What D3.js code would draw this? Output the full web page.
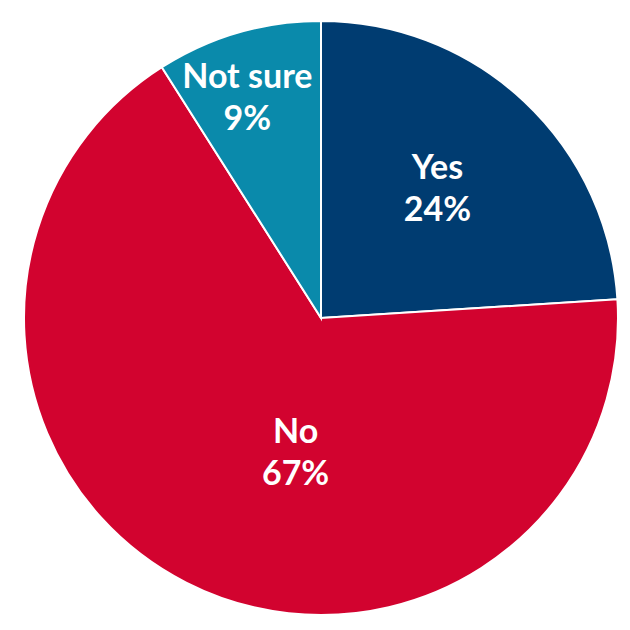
<!DOCTYPE html>
<html><head><meta charset="utf-8">
<script src="https://cdn.jsdelivr.net/npm/d3@7"></script>
<style>html,body{margin:0;padding:0;background:#fff;}</style>
</head><body>
<svg id="chart" width="630" height="630"></svg>
<script>
const categories = ["Yes", "No", "Not sure"];
const values = [24, 67, 9];
const valueLabels = ["24%", "67%", "9%"];
const colors = ["#003c71", "#d2032f", "#0a8aab"];
// label placement: angle (deg, clockwise from 12 o'clock) and distance from centre
const labelAngles = [42, 190.7, 341.5];
const labelRadii = [174, 137, 232];

const cx = 321, cy = 318, R = 297;
const svg = d3.select("#chart");
const g = svg.append("g").attr("transform", `translate(${cx},${cy})`);

const data = categories.map((c, i) => ({cat: c, value: values[i], label: valueLabels[i], color: colors[i], i}));
const pie = d3.pie().value(d => d.value).sort(null);
const arc = d3.arc().innerRadius(0).outerRadius(R);

g.selectAll("path").data(pie(data)).join("path")
  .attr("d", arc)
  .attr("fill", d => d.data.color)
  .attr("stroke", "#fff")
  .attr("stroke-width", 2)
  .attr("stroke-linejoin", "miter");

const labels = g.selectAll("g.lbl").data(data).join("g").attr("class", "lbl")
  .attr("transform", d => {
    const a = labelAngles[d.i] * Math.PI / 180, r = labelRadii[d.i];
    return `translate(${r * Math.sin(a)},${-r * Math.cos(a)})`;
  });
labels.append("text").attr("text-anchor", "middle").attr("y", -10)
  .style("font-family", "Lato, 'Open Sans', sans-serif").style("font-weight", "bold")
  .style("font-size", "34px").attr("fill", "#fff").text(d => d.cat);
labels.append("text").attr("text-anchor", "middle").attr("y", 32)
  .style("font-family", "Lato, 'Open Sans', sans-serif").style("font-weight", "bold")
  .style("font-size", "34px").attr("fill", "#fff").text(d => d.label);
</script>
</body></html>
